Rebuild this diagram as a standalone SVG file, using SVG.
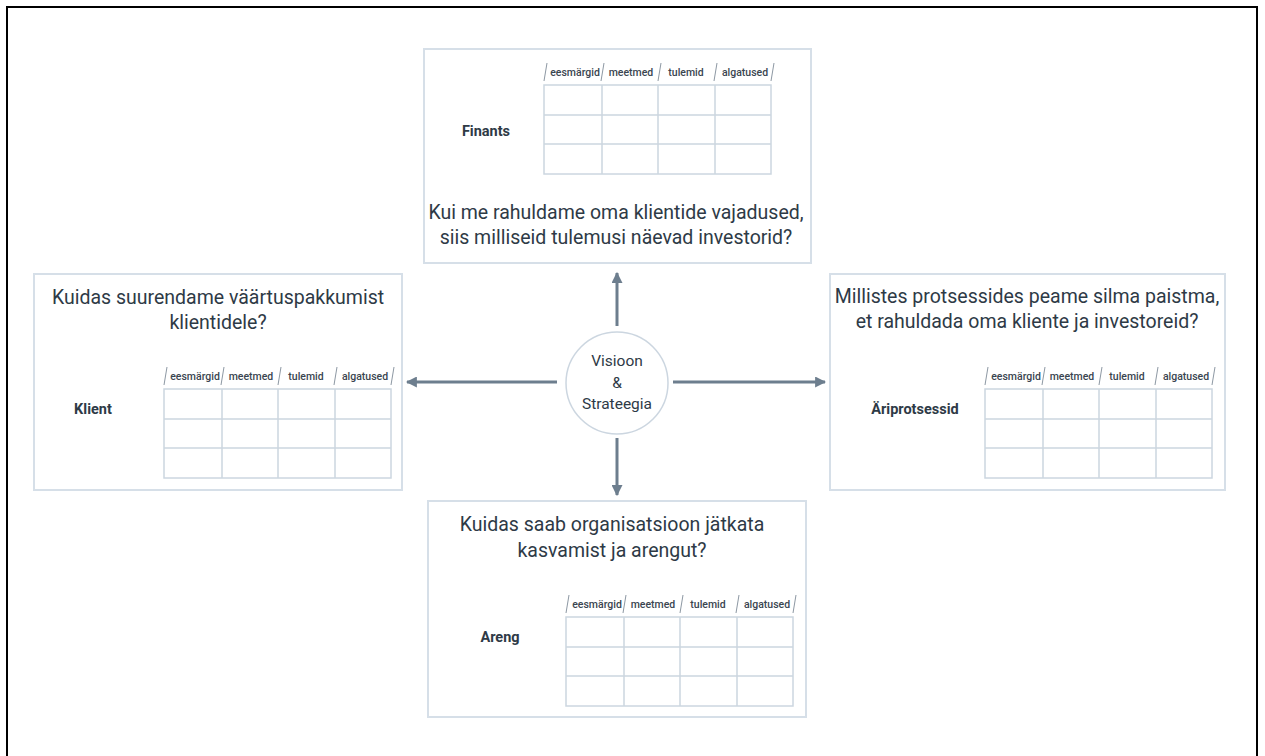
<svg xmlns="http://www.w3.org/2000/svg" xmlns:xlink="http://www.w3.org/1999/xlink" width="1265" height="756" viewBox="0 0 1265 756">
<style>
.box{fill:#fff;stroke:#d6dfe8;stroke-width:2}
.grid{fill:none;stroke:#ccd6e0;stroke-width:1.5}
.sl{stroke:#8d98a3;stroke-width:1}
.hd{font-family:Roboto,"Liberation Sans",sans-serif;font-size:10.5px;font-weight:500;fill:#3a4550;text-anchor:middle}
.q{font-family:Roboto,"Liberation Sans",sans-serif;font-size:19.5px;fill:#2e3a46;text-anchor:middle}
.lb{font-family:Roboto,"Liberation Sans",sans-serif;font-size:14.5px;font-weight:bold;fill:#2e3a46;text-anchor:middle}
.c{font-family:Roboto,"Liberation Sans",sans-serif;font-size:15.5px;fill:#2e3a46;text-anchor:middle}
.arr{stroke:#6d7e8e;stroke-width:3;fill:none;marker-end:url(#ah)}
</style>
<defs>
<marker id="ah" markerUnits="userSpaceOnUse" viewBox="0 0 10 10" refX="9" refY="5" markerWidth="11" markerHeight="11" orient="auto">
<path d="M0,0 L10,5 L0,10 z" fill="#6d7e8e"/>
</marker>
<g id="tbl">
<rect class="grid" x="0" y="0" width="227" height="89"/>
<path class="grid" d="M0,30H227M0,59H227M58,0V89M114,0V89M171,0V89"/>
<path class="sl" d="M0,-4L3,-22M57,-4L60,-22M114,-4L117,-22M170,-4L173,-22M227,-4L230,-22"/>
<text class="hd" x="31" y="-9">eesmärgid</text>
<text class="hd" x="87" y="-9">meetmed</text>
<text class="hd" x="142" y="-9">tulemid</text>
<text class="hd" x="201" y="-9">algatused</text>
</g>
</defs>
<rect x="7" y="7" width="1250" height="760" fill="#fff" stroke="#000" stroke-width="2"/>
<g id="finants">
<rect class="box" x="424" y="49" width="387" height="214"/>
<use xlink:href="#tbl" x="544" y="85"/>
<text class="lb" x="486" y="136">Finants</text>
<text class="q" x="616" y="219">Kui me rahuldame oma klientide vajadused,</text>
<text class="q" x="616" y="244">siis milliseid tulemusi näevad investorid?</text>
</g>
<g id="klient">
<rect class="box" x="34" y="274" width="368" height="216"/>
<use xlink:href="#tbl" x="164" y="389"/>
<text class="lb" x="93" y="414">Klient</text>
<text class="q" x="218" y="304">Kuidas suurendame väärtuspakkumist</text>
<text class="q" x="218" y="329">klientidele?</text>
</g>
<g id="ariprotsessid">
<rect class="box" x="830" y="274" width="395" height="216"/>
<use xlink:href="#tbl" x="985" y="389"/>
<text class="lb" x="915" y="414">Äriprotsessid</text>
<text class="q" x="1027" y="303">Millistes protsessides peame silma paistma,</text>
<text class="q" x="1027" y="328">et rahuldada oma kliente ja investoreid?</text>
</g>
<g id="areng">
<rect class="box" x="428" y="501" width="378" height="216"/>
<use xlink:href="#tbl" x="566" y="617"/>
<text class="lb" x="500" y="642">Areng</text>
<text class="q" x="612" y="531">Kuidas saab organisatsioon jätkata</text>
<text class="q" x="612" y="557">kasvamist ja arengut?</text>
</g>
<g id="visioon">
<circle cx="617" cy="383" r="51" fill="#fff" stroke="#ccd6e0" stroke-width="1.5"/>
<text class="c" x="617" y="366">Visioon</text>
<text class="c" x="617" y="388">&amp;</text>
<text class="c" x="617" y="409">Strateegia</text>
</g>
<g id="connectors">
<line class="arr" x1="617" y1="326" x2="617" y2="273"/>
<line class="arr" x1="617" y1="438" x2="617" y2="495"/>
<line class="arr" x1="673" y1="382" x2="825" y2="382"/>
<line class="arr" x1="557" y1="382" x2="407" y2="382"/>
</g>
</svg>
